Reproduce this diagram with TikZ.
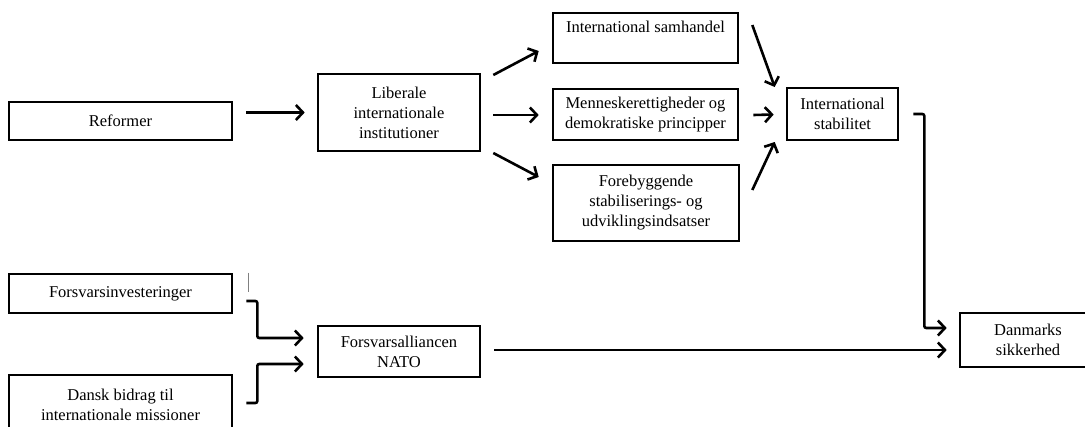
\documentclass[tikz,border=0pt]{standalone}
\usepackage{fontspec}
\setmainfont{Liberation Serif}
\usetikzlibrary{arrows.meta,calc}
\begin{document}
\begin{tikzpicture}[x=1pt,y=-1pt,
  box/.style={draw=black,line width=2.6pt,rectangle,inner sep=0pt,align=center,
    font=\fontsize{16.5}{20}\selectfont},
  arr/.style={line width=2.6pt,-{Straight Barb[length=7pt,width=15pt,line width=2.6pt]}},
  elbow/.style={arr,rounded corners=2pt}]
\useasboundingbox (0,0) rectangle (1085,426);
\begin{scope}
\clip (0,0) rectangle (1085,426);
\node[box,minimum width=223pt,minimum height=38pt] (ref) at (120.5,121) {Reformer};
\node[box,minimum width=162pt,minimum height=77pt] (lib) at (399,112.5) {Liberale\\internationale\\institutioner};
\node[box,minimum width=185pt,minimum height=50pt] (sam) at (645.5,38) {International samhandel\\[3pt]\mbox{}};
\node[box,minimum width=185pt,minimum height=51pt] (men) at (645.5,114.5) {Menneskerettigheder og\\demokratiske principper};
\node[box,minimum width=186pt,minimum height=76pt] (fore) at (646,203) {Forebyggende\\stabiliserings- og\\udviklingsindsatser};
\node[box,minimum width=111pt,minimum height=52pt] (stab) at (842.5,114) {International\\stabilitet};
\node[box,minimum width=136pt,minimum height=54pt] (dan) at (1028,340) {Danmarks\\sikkerhed};
\node[box,minimum width=223pt,minimum height=39pt] (fi) at (120.5,293.5) {Forsvarsinvesteringer};
\node[box,minimum width=223pt,minimum height=60pt] (dbi) at (120.5,405) {Dansk bidrag til\\internationale missioner};
\node[box,minimum width=162pt,minimum height=51pt] (nato) at (399,351.5) {Forsvarsalliancen\\NATO};
\end{scope}
% arrows
\draw[arr] ([xshift=13pt]ref.east |- lib.west) -- ([xshift=-12pt]lib.west);
\draw[arr] ($(lib.east)+(12,-37.5)$) -- ($(sam.west)+(-13,13)$);
\draw[arr] ($(lib.east)+(12,2.5)$) -- ($(men.west)+(-13,0.5)$);
\draw[arr] ($(lib.east)+(12,40.5)$) -- ($(fore.west)+(-13,-26)$);
\draw[arr] ($(sam.east)+(13,-13)$) -- ($(stab.west)+(-11,-27)$);
\draw[arr] ($(men.east)+(14,0.5)$) -- ($(stab.west)+(-12,0.5)$);
\draw[arr] ($(fore.east)+(12,-13)$) -- ($(stab.west)+(-11,28)$);
\coordinate (c1) at ($(stab.east)+(25,0)$);
\draw[elbow] ($(stab.east)+(14,0)$) -- (c1) |- ($(dan.west)+(-12,-12)$);
\draw[arr] ($(nato.east)+(13,-1.5)$) -- ($(dan.west)+(-12,10)$);
\coordinate (c2) at ($(fi.east)+(24,7.5)$);
\draw[elbow] ($(fi.east)+(13,7.5)$) -- (c2) |- ($(nato.west)+(-13,-13.5)$);
\coordinate (c3) at ($(dbi.east)+(24,-2)$);
\draw[elbow] ($(dbi.east)+(13,-2)$) -- (c3) |- ($(nato.west)+(-13,12.5)$);
\coordinate (m1) at ($(fi.north east)+(15,0)$);
\coordinate (m2) at ($(fi.north east)+(15,19)$);
\draw[gray,line width=0.9pt] (m1) -- (m2);
\end{tikzpicture}
\end{document}
